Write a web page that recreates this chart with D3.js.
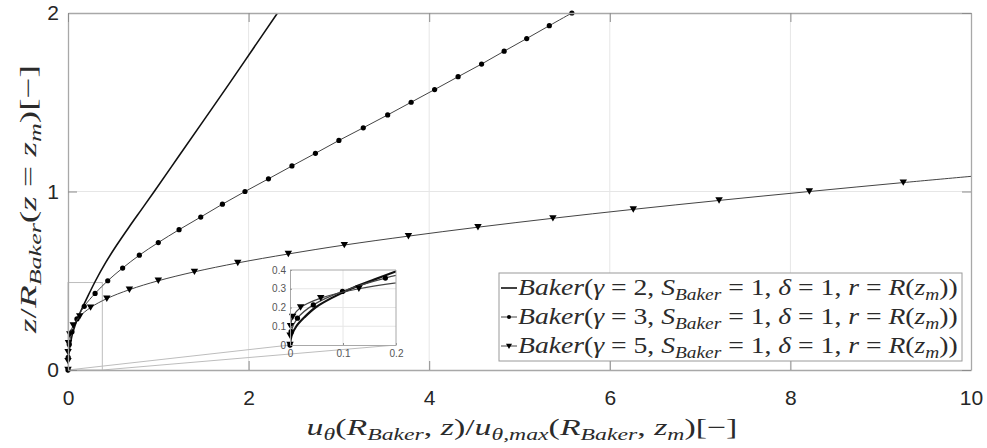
<!DOCTYPE html>
<html>
<head>
<meta charset="utf-8">
<script src="https://cdn.jsdelivr.net/npm/d3@7"></script>
<style>
  body { margin: 0; background: #fff; }
  svg { display: block; }
  text { white-space: pre; }
</style>
</head>
<body>
<svg id="chart" width="987" height="448"></svg>
<script>
// gamma = 2 (plain line)
const s1Z = [0, 0.05, 0.1, 0.15, 0.2, 0.25, 0.3, 0.35, 0.4, 0.5, 0.6, 0.7, 0.8, 0.9, 1.0, 1.2, 1.4, 1.6, 1.8, 2.0, 2.1];
const s1X = [0, 0.003, 0.012, 0.028, 0.048, 0.078, 0.115, 0.16, 0.207, 0.305, 0.415, 0.54, 0.675, 0.815, 0.955, 1.23, 1.505, 1.78, 2.05, 2.32, 2.455];
// gamma = 3 (dots)
const s2Z = [0, 0.071, 0.143, 0.214, 0.286, 0.357, 0.429, 0.5, 0.571, 0.643, 0.714, 0.786, 0.857, 0.929, 1.0, 1.071, 1.143, 1.214, 1.286, 1.357, 1.429, 1.5, 1.571, 1.643, 1.714, 1.786, 1.857, 1.929, 2.0];
const s2X = [0, 0.002, 0.014, 0.044, 0.099, 0.18, 0.30, 0.44, 0.605, 0.79, 1.0, 1.23, 1.47, 1.71, 1.96, 2.22, 2.48, 2.74, 3.0, 3.27, 3.54, 3.80, 4.06, 4.32, 4.58, 4.83, 5.08, 5.33, 5.58];
// gamma = 5 (triangles)
const s3Z = [0, 0.05, 0.1, 0.15, 0.2, 0.25, 0.3, 0.35, 0.4, 0.45, 0.5, 0.55, 0.6, 0.65, 0.7, 0.75, 0.8, 0.85, 0.9, 0.95, 1.0, 1.05, 1.1];
const s3X = [0, 0.0002, 0.001, 0.005, 0.02, 0.058, 0.13, 0.25, 0.43, 0.68, 1.0, 1.40, 1.88, 2.44, 3.06, 3.77, 4.54, 5.37, 6.26, 7.21, 8.21, 9.25, 10.33];

const xTicks = [0, 2, 4, 6, 8, 10];
const yTicks = [0, 1, 2];
const insetXTicks = [0, 0.1, 0.2];
const insetYTicks = [0, 0.1, 0.2, 0.3, 0.4];
const zoomBox = [0.38, 0.49]; // rectangle shown in main axes (x, z)

const legendNames = ["2", "3", "5"];

const svg = d3.select("#chart");
const x = d3.scaleLinear([0, 10], [68, 971]);
const y = d3.scaleLinear([0, 2], [370, 13]);
const ix = d3.scaleLinear([0, 0.2], [290, 396]);
const iy = d3.scaleLinear([0, 0.4], [345, 270]);

const series = [
  { xs: s1X, zs: s1Z, marker: null, main: 1.6, inset: 2.2, color: "#111" },
  { xs: s2X, zs: s2Z, marker: "dot", main: 1, inset: 1.2, color: "#444" },
  { xs: s3X, zs: s3Z, marker: "tri", main: 1, inset: 1.2, color: "#444" },
];

const axisColor = "#262626";
const boxColor = "#a8a8a8";
const gridColor = "#e6e6e6";
const labelColor = "#2b2b2b";

// latex-ish text with italic / subscript pieces
const mathText = (t, parts, fs) => {
  let shifted = false;
  parts.forEach(([txt, kind]) => {
    const sub = kind[0] == "s";
    const ts = t.append("tspan").text(txt)
      .attr("font-style", kind.endsWith("i") ? "italic" : "normal")
      .attr("font-size", sub ? fs * 0.7 : fs);
    if (sub && !shifted) { ts.attr("dy", fs * 0.22); shifted = true; }
    else if (!sub && shifted) { ts.attr("dy", -fs * 0.22); shifted = false; }
  });
  return t;
};
// widen the glyphs (computer modern is wider than the serif we have)
const stretch = (g, t, target) => {
  const w = t.node().getComputedTextLength();
  g.attr("transform", g.attr("transform") + ` scale(${target / w},1)`);
};

const defs = svg.append("defs");
defs.append("clipPath").attr("id", "clipMain").append("rect")
  .attr("x", 68).attr("y", 13).attr("width", 903).attr("height", 357);
defs.append("clipPath").attr("id", "clipInset").append("rect")
  .attr("x", 290).attr("y", 270).attr("width", 106).attr("height", 75);

// main grid
svg.append("g").selectAll("line").data(xTicks.slice(1, -1)).join("line")
  .attr("x1", (d) => x(d)).attr("x2", (d) => x(d))
  .attr("y1", y(0)).attr("y2", y(2))
  .attr("stroke", gridColor);
svg.append("g").selectAll("line").data(yTicks.slice(1, -1)).join("line")
  .attr("y1", (d) => y(d)).attr("y2", (d) => y(d))
  .attr("x1", x(0)).attr("x2", x(10))
  .attr("stroke", gridColor);

// zoom rectangle + connectors
svg.append("rect")
  .attr("x", x(0)).attr("y", y(zoomBox[1]))
  .attr("width", x(zoomBox[0]) - x(0)).attr("height", y(0) - y(zoomBox[1]))
  .attr("fill", "none").attr("stroke", "#bdbdbd");
svg.append("line").attr("x1", x(0)).attr("y1", y(0)).attr("x2", ix(0)).attr("y2", iy(0))
  .attr("stroke", "#bdbdbd");
svg.append("line").attr("x1", x(zoomBox[0])).attr("y1", y(0)).attr("x2", ix(0.2)).attr("y2", iy(0))
  .attr("stroke", "#bdbdbd");

const tri = d3.symbol().type(d3.symbolTriangle).size(24);

const drawSeries = (g, sx, sy, clip, inset) => {
  const x1 = sx.domain()[1];
  const y1 = sy.domain()[1];
  series.forEach((s) => {
    const pts = s.xs.map((v, i) => [v, s.zs[i]]);
    const line = d3.line().x((d) => sx(d[0])).y((d) => sy(d[1])).curve(d3.curveCatmullRom.alpha(0.5));
    g.append("path")
      .attr("d", line(pts))
      .attr("clip-path", `url(#${clip})`)
      .attr("fill", "none")
      .attr("stroke", s.color)
      .attr("stroke-width", inset ? s.inset : s.main);
    const vis = pts.filter((d) => d[0] <= x1 + 1e-9 && d[1] <= y1 + 1e-9);
    if (s.marker == "dot") {
      g.append("g").selectAll("circle").data(vis).join("circle")
        .attr("cx", (d) => sx(d[0])).attr("cy", (d) => sy(d[1]))
        .attr("r", 2.6).attr("fill", "#000");
    } else if (s.marker == "tri") {
      g.append("g").selectAll("path").data(vis).join("path")
        .attr("d", tri)
        .attr("transform", (d) => `translate(${sx(d[0])},${sy(d[1]) - 1}) rotate(180)`)
        .attr("fill", "#000");
    }
  });
};

drawSeries(svg.append("g"), x, y, "clipMain", false);

// main axes
const tickFont = (g, fs) => {
  g.selectAll("text").attr("font-family", "Liberation Sans, Arial, sans-serif")
    .attr("font-size", fs).attr("fill", axisColor);
  g.selectAll(".tick line").attr("stroke", "#8c8c8c");
  g.select(".domain").attr("stroke", boxColor);
};
const plain = (d) => String(d);
const gx = svg.append("g").attr("transform", `translate(0,${y(0)})`)
  .call(d3.axisBottom(x).tickValues(xTicks).tickSize(-9).tickSizeOuter(0).tickPadding(20).tickFormat(plain));
tickFont(gx, 21);
const gy = svg.append("g").attr("transform", `translate(${x(0)},0)`)
  .call(d3.axisLeft(y).tickValues(yTicks).tickSize(-9).tickSizeOuter(0).tickPadding(9).tickFormat(plain));
tickFont(gy, 21);
const gt = svg.append("g").attr("transform", `translate(0,${y(2)})`)
  .call(d3.axisTop(x).tickValues(xTicks).tickSize(-9).tickSizeOuter(0).tickFormat(""));
tickFont(gt, 21);
const gr = svg.append("g").attr("transform", `translate(${x(10)},0)`)
  .call(d3.axisRight(y).tickValues(yTicks).tickSize(-9).tickSizeOuter(0).tickFormat(""));
tickFont(gr, 21);
[gx, gy, gt, gr].forEach((g) => g.select(".domain").attr("stroke-width", 1.3));

// inset
const inset = svg.append("g");
inset.append("rect").attr("x", 290).attr("y", 270).attr("width", 106).attr("height", 75)
  .attr("fill", "#fff");
inset.append("g").selectAll("line").data(insetXTicks.slice(1, -1)).join("line")
  .attr("x1", (d) => ix(d)).attr("x2", (d) => ix(d)).attr("y1", iy(0)).attr("y2", iy(0.4))
  .attr("stroke", gridColor);
inset.append("g").selectAll("line").data(insetYTicks.slice(1, -1)).join("line")
  .attr("y1", (d) => iy(d)).attr("y2", (d) => iy(d)).attr("x1", ix(0)).attr("x2", ix(0.2))
  .attr("stroke", gridColor);
drawSeries(inset, ix, iy, "clipInset", true);
const ibx = inset.append("g").attr("transform", `translate(0,${iy(0)})`)
  .call(d3.axisBottom(ix).tickValues(insetXTicks).tickSize(-2).tickSizeOuter(0).tickPadding(5).tickFormat(plain));
tickFont(ibx, 10);
const iby = inset.append("g").attr("transform", `translate(${ix(0)},0)`)
  .call(d3.axisLeft(iy).tickValues(insetYTicks).tickSize(-2).tickSizeOuter(0).tickPadding(4).tickFormat(plain));
tickFont(iby, 10);
inset.append("path")
  .attr("d", `M${ix(0)},${iy(0.4)}H${ix(0.2)}V${iy(0)}`)
  .attr("fill", "none").attr("stroke", boxColor);
inset.selectAll(".tick text").attr("fill", "#555");

// axis labels
const serif = "Liberation Serif, DejaVu Serif, serif";
const xg = svg.append("g").attr("transform", "translate(522,435)");
const xl = xg.append("text").attr("text-anchor", "middle")
  .attr("font-family", serif).attr("fill", labelColor);
mathText(xl, [["u", "i"], ["θ", "si"], ["(", "r"], ["R", "i"], ["Baker", "si"], [", ", "r"],
  ["z", "i"], [")/", "r"], ["u", "i"], ["θ,max", "si"], ["(", "r"], ["R", "i"], ["Baker", "si"],
  [", ", "r"], ["z", "i"], ["m", "si"], [")[−]", "r"]], 23);
stretch(xg, xl, 431);

const yg = svg.append("g").attr("transform", "translate(36,199) rotate(-90)");
const yl = yg.append("text").attr("text-anchor", "middle")
  .attr("font-family", serif).attr("fill", labelColor);
mathText(yl, [["z", "i"], ["/", "r"], ["R", "i"], ["Baker", "si"], ["(", "r"], ["z", "i"],
  [" = ", "r"], ["z", "i"], ["m", "si"], [")[−]", "r"]], 24);
stretch(yg, yl, 268);

// legend
const legend = svg.append("g");
legend.append("rect").attr("x", 499).attr("y", 273).attr("width", 463).attr("height", 88)
  .attr("fill", "#fff").attr("stroke", "#9a9a9a");
const rows = legend.selectAll("g.row").data(series).join("g").attr("class", "row")
  .attr("transform", (d, i) => `translate(0,${288 + i * 29})`);
rows.append("line").attr("x1", 501).attr("x2", 517).attr("y1", 0).attr("y2", 0)
  .attr("stroke", (d) => d.color).attr("stroke-width", (d) => d.main);
rows.filter((d) => d.marker == "dot").append("circle").attr("cx", 509).attr("cy", 0)
  .attr("r", 2).attr("fill", "#000");
rows.filter((d) => d.marker == "tri").append("path").attr("d", d3.symbol().type(d3.symbolTriangle).size(16))
  .attr("transform", "translate(509,-0.5) rotate(180)").attr("fill", "#000");
rows.each(function (d, i) {
  const g = d3.select(this).append("g").attr("transform", "translate(518,7)");
  const t = g.append("text").attr("font-family", serif).attr("fill", labelColor);
  mathText(t, [["Baker", "i"], ["(", "r"], ["γ", "i"], [` = ${legendNames[i]}, `, "r"], ["S", "i"],
    ["Baker", "si"], [" = 1, ", "r"], ["δ", "i"], [" = 1, ", "r"], ["r", "i"], [" = ", "r"],
    ["R", "i"], ["(", "r"], ["z", "i"], ["m", "si"], ["))", "r"]], 23);
  stretch(g, t, 440);
});
</script>
</body>
</html>
